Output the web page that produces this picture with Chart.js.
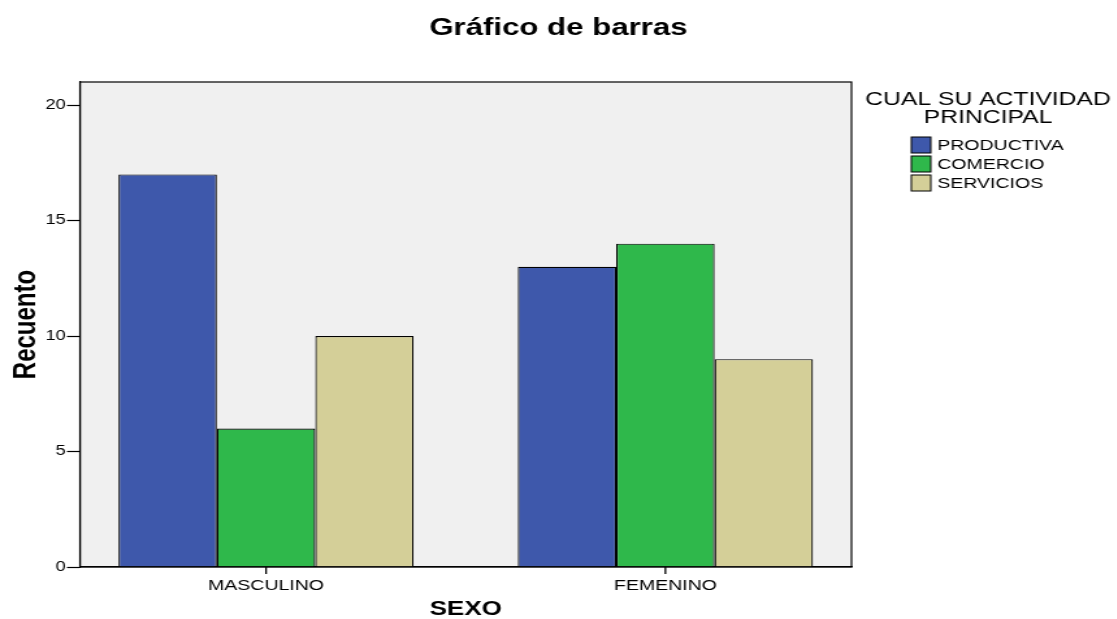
<!DOCTYPE html>
<html>
<head>
<meta charset="utf-8">
<script src="https://cdn.jsdelivr.net/npm/chart.js@4"></script>
<style>
  body { margin: 0; background: #fff; overflow: hidden; }
  /* the reference is stretched horizontally, so draw narrow and widen it */
  #wrap { width: 859px; height: 619px; transform: scaleX(1.3); transform-origin: 0 0; }
  #chart { display: block; }
</style>
</head>
<body>
<div id="wrap"><canvas id="chart" width="859" height="619"></canvas></div>
<script>
// datos del gráfico
const titulo = 'Gráfico de barras';
const categorias = ['MASCULINO', 'FEMENINO'];
const actividades = ['PRODUCTIVA', 'COMERCIO', 'SERVICIOS'];
const productiva = [17, 13];
const comercio = [6, 14];
const servicios = [10, 9];
const colores = ['#3e58ab', '#2fb84b', '#d4cf98'];
const ticksY = [0, 5, 10, 15, 20];

const FONT = "'Liberation Sans', Arial, sans-serif";

// fondo gris, marco del área de trazado, marcas del eje x y título
const marco = {
    id: 'marco',
    beforeDraw(chart) {
        const a = chart.chartArea, ctx = chart.ctx;
        ctx.save();
        ctx.fillStyle = '#f0f0f0';
        ctx.fillRect(a.left, a.top, a.right - a.left, a.bottom - a.top);
        ctx.restore();
    },
    afterDraw(chart) {
        const a = chart.chartArea, ctx = chart.ctx;
        ctx.save();
        ctx.strokeStyle = '#000';
        ctx.lineWidth = 1.2;
        ctx.strokeRect(a.left, a.top, a.right - a.left, a.bottom - a.top);
        // marcas bajo cada categoría
        const sx = chart.scales.x;
        ctx.lineWidth = 1.3;
        ctx.beginPath();
        categorias.forEach(function(c, j) {
            const px = sx.getPixelForValue(j);
            ctx.moveTo(px, a.bottom);
            ctx.lineTo(px, a.bottom + 7);
        });
        ctx.stroke();
        ctx.fillStyle = '#000';
        ctx.textAlign = 'center';
        ctx.textBaseline = 'middle';
        ctx.font = 'bold 24px ' + FONT;
        ctx.fillText(titulo, chart.width / 2, 28);
        ctx.restore();
    }
};

// leyenda a la derecha con título de dos líneas
const leyenda = {
    id: 'leyenda',
    afterDraw(chart) {
        const ctx = chart.ctx;
        ctx.save();
        ctx.fillStyle = '#000';
        ctx.textAlign = 'center';
        ctx.textBaseline = 'middle';
        ctx.font = '19px ' + FONT;
        ctx.fillText('CUAL SU ACTIVIDAD', 760, 100);
        ctx.fillText('PRINCIPAL', 760, 118);
        ctx.font = '15px ' + FONT;
        ctx.textAlign = 'left';
        chart.data.datasets.forEach(function(ds, i) {
            const y = 145 + i * 19;
            ctx.fillStyle = ds.backgroundColor;
            ctx.fillRect(701, y - 8, 15, 16);
            ctx.strokeStyle = '#000';
            ctx.lineWidth = 1;
            ctx.strokeRect(701, y - 8, 15, 16);
            ctx.fillStyle = '#000';
            ctx.fillText(ds.label, 721, y + 1);
        });
        ctx.restore();
    }
};

const series = [productiva, comercio, servicios];

new Chart(document.getElementById('chart'), {
    type: 'bar',
    data: {
        datasets: actividades.map(function(nombre, i) {
            return {
                label: nombre,
                data: series[i].map(function(v, j) { return { x: j, y: v }; }),
                backgroundColor: colores[i],
                borderColor: '#000',
                borderWidth: 1.2,
                categoryPercentage: 0.739,
                barPercentage: 1.0
            };
        })
    },
    options: {
        responsive: false,
        devicePixelRatio: 1,
        animation: false,
        layout: { padding: { left: 0, right: 204, top: 82, bottom: 0 } },
        plugins: {
            legend: { display: false },
            tooltip: { enabled: false },
            title: { display: false }
        },
        scales: {
            x: {
                type: 'linear',
                min: -0.466,
                max: 1.466,
                offset: false,
                afterFit(scale) { scale.height = 52; },
                afterBuildTicks(scale) {
                    scale.ticks = categorias.map(function(c, j) { return { value: j }; });
                },
                grid: { display: false, drawTicks: true, tickLength: 7 },
                border: { display: true, color: '#000', width: 1.2 },
                ticks: {
                    color: '#000',
                    padding: 3,
                    maxRotation: 0,
                    autoSkip: false,
                    font: { family: FONT, size: 15 },
                    callback: function(v) { return categorias[v]; }
                },
                title: {
                    display: true,
                    text: 'SEXO',
                    color: '#000',
                    font: { family: FONT, size: 20, weight: 'bold', lineHeight: 1 },
                    padding: { top: 0, bottom: 0 }
                }
            },
            y: {
                min: 0,
                max: 21,
                afterFit(scale) { scale.width = 61.5; },
                afterBuildTicks(scale) {
                    scale.ticks = ticksY.map(function(v) { return { value: v }; });
                },
                grid: {
                    drawOnChartArea: false,
                    drawTicks: true,
                    tickLength: 10,
                    tickWidth: 1.2,
                    color: '#000'
                },
                border: { display: true, color: '#000', width: 1.2 },
                ticks: {
                    color: '#000',
                    padding: 1,
                    font: { family: FONT, size: 14 }
                },
                title: {
                    display: true,
                    text: 'Recuento',
                    color: '#000',
                    font: { family: FONT, size: 24, weight: 'bold', lineHeight: 1 },
                    padding: { top: 8.5, bottom: 0 }
                }
            }
        }
    },
    plugins: [marco, leyenda]
});
</script>
</body>
</html>
